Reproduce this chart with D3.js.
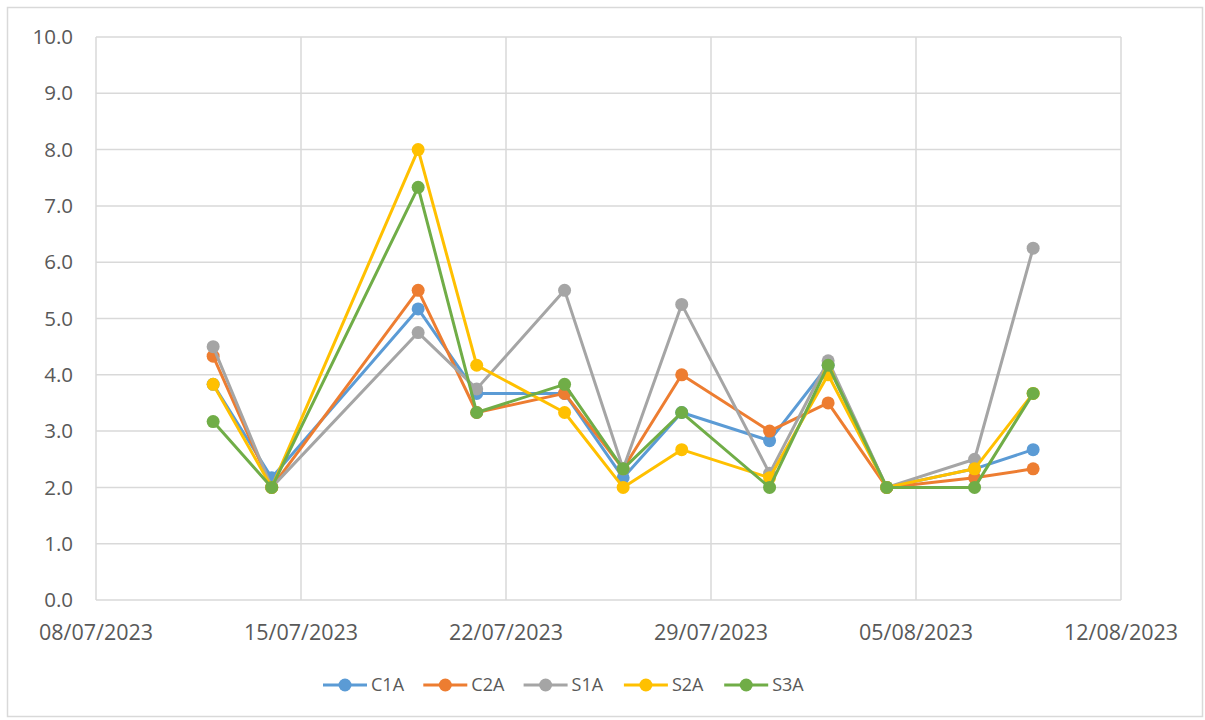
<!DOCTYPE html>
<html><head><meta charset="utf-8">
<script src="https://cdn.jsdelivr.net/npm/d3@7"></script>
<style>body{margin:0;background:#fff;}svg{display:block;}</style>
</head><body>
<svg id="c" width="1205" height="720"></svg>
<script>
const dates = ["2023-07-12","2023-07-14","2023-07-19","2023-07-21","2023-07-24","2023-07-26","2023-07-28","2023-07-31","2023-08-02","2023-08-04","2023-08-07","2023-08-09"];
const seriesNames = ["C1A","C2A","S1A","S2A","S3A"];
const C1A = [3.83,2.17,5.17,3.67,3.67,2.17,3.33,2.83,4.17,2.0,2.33,2.67];
const C2A = [4.33,2.0,5.5,3.33,3.67,2.33,4.0,3.0,3.5,2.0,2.17,2.33];
const S1A = [4.5,2.0,4.75,3.75,5.5,2.33,5.25,2.25,4.25,2.0,2.5,6.25];
const S2A = [3.83,2.0,8.0,4.17,3.33,2.0,2.67,2.17,4.0,2.0,2.33,3.67];
const S3A = [3.17,2.0,7.33,3.33,3.83,2.33,3.33,2.0,4.17,2.0,2.0,3.67];
const colors = ["#5B9BD5","#ED7D31","#A5A5A5","#FFC000","#70AD47"];
const xTicks = ["2023-07-08","2023-07-15","2023-07-22","2023-07-29","2023-08-05","2023-08-12"];
const yTicks = [0,1,2,3,4,5,6,7,8,9,10];

const values = [C1A,C2A,S1A,S2A,S3A];
const parse = d3.utcParse("%Y-%m-%d");
const fmt = d3.utcFormat("%d/%m/%Y");
const svg = d3.select("#c");
const font = "'Open Sans', 'Noto Sans', sans-serif";
const textColor = "#595959";
const gridColor = "#D9D9D9";

svg.append("rect").attr("x",7.5).attr("y",7.5).attr("width",1195).attr("height",709)
  .attr("fill","#fff").attr("stroke",gridColor).attr("stroke-width",1.5);

const x = d3.scaleUtc().domain([parse(xTicks[0]), parse(xTicks[xTicks.length-1])]).range([96,1121]);
const y = d3.scaleLinear().domain([0,10]).range([600,37]);

const g = svg.append("g");
g.selectAll(".hg").data(yTicks).join("line")
  .attr("x1",96).attr("x2",1121).attr("y1",d=>y(d)).attr("y2",d=>y(d))
  .attr("stroke",gridColor).attr("stroke-width",1.5);
g.selectAll(".vg").data(xTicks).join("line")
  .attr("x1",d=>x(parse(d))).attr("x2",d=>x(parse(d))).attr("y1",37).attr("y2",600)
  .attr("stroke",gridColor).attr("stroke-width",1.5);

g.selectAll(".yl").data(yTicks).join("text")
  .attr("x",73).attr("y",d=>y(d)).attr("dy","0.35em").attr("text-anchor","end")
  .attr("font-family",font).attr("font-size",20.5).attr("fill",textColor)
  .text(d=>d.toFixed(1));
g.selectAll(".xl").data(xTicks).join("text")
  .attr("x",d=>x(parse(d))).attr("y",632).attr("dy","0.35em").attr("text-anchor","middle")
  .attr("font-family",font).attr("font-size",21.5).attr("fill",textColor)
  .text(d=>fmt(parse(d)));

const line = d3.line().x((d,i)=>x(parse(dates[i]))).y(d=>y(d));
values.forEach((vals,si)=>{
  const sg = svg.append("g");
  sg.append("path").datum(vals).attr("d",line).attr("fill","none")
    .attr("stroke",colors[si]).attr("stroke-width",3).attr("stroke-linejoin","round");
  sg.selectAll("circle").data(vals).join("circle")
    .attr("cx",(d,i)=>x(parse(dates[i]))).attr("cy",d=>y(d)).attr("r",6.5)
    .attr("fill",colors[si]);
});

const lg = svg.append("g");
seriesNames.forEach((n,i)=>{
  const cx = 345 + i*100.3;
  lg.append("line").attr("x1",cx-22).attr("x2",cx+22).attr("y1",685).attr("y2",685)
    .attr("stroke",colors[i]).attr("stroke-width",3);
  lg.append("circle").attr("cx",cx).attr("cy",685).attr("r",6.5).attr("fill",colors[i]);
  lg.append("text").attr("x",cx+26).attr("y",685).attr("dy","0.35em")
    .attr("font-family",font).attr("font-size",18).attr("fill",textColor).text(n);
});
</script>
</body></html>
